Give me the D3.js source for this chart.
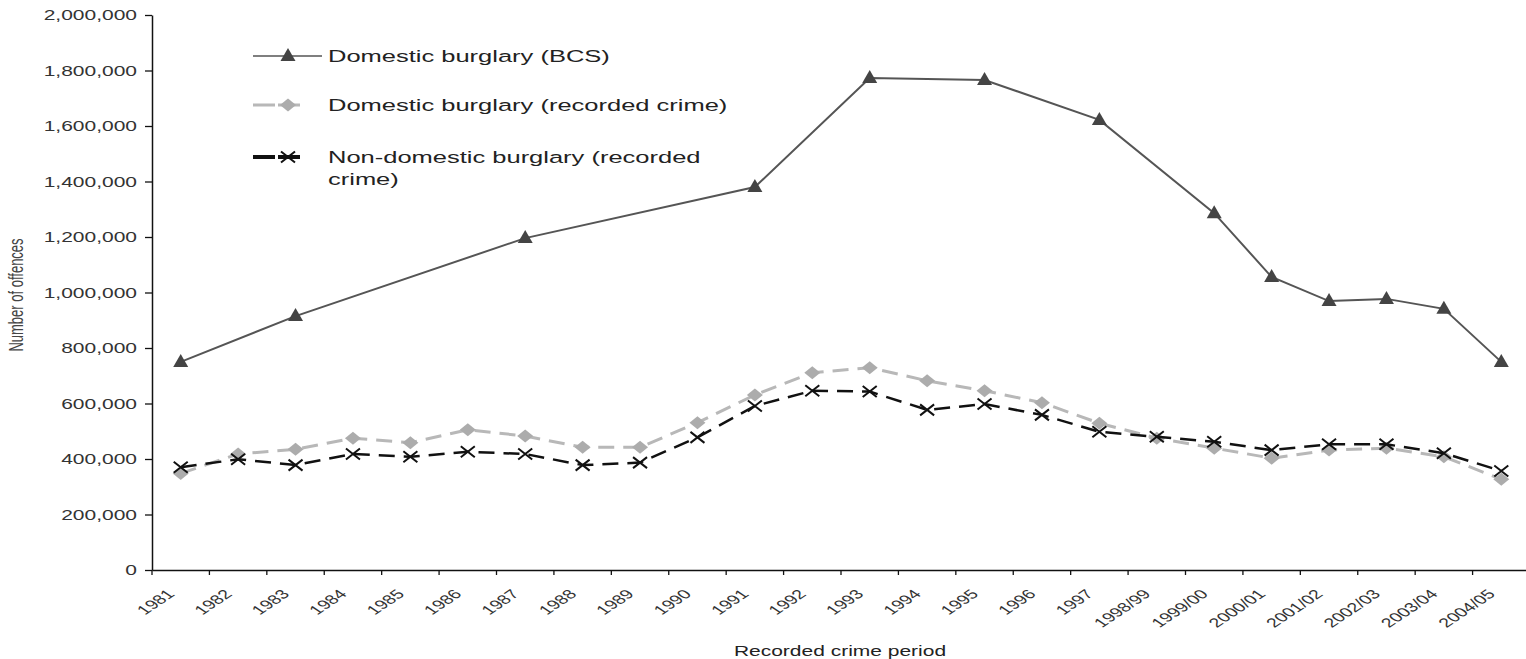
<!DOCTYPE html>
<html>
<head>
<meta charset="utf-8">
<script src="https://cdn.jsdelivr.net/npm/d3@7"></script>
<style>
  html, body { margin: 0; padding: 0; background: #fff; }
  svg { display: block; font-family: "Liberation Sans", Arial, sans-serif; }
</style>
</head>
<body>
<svg id="chart" width="1526" height="659"></svg>
<script>
const categories = ["1981","1982","1983","1984","1985","1986","1987","1988","1989","1990",
  "1991","1992","1993","1994","1995","1996","1997","1998/99","1999/00","2000/01",
  "2001/02","2002/03","2003/04","2004/05"];
const bcsValues = [750000,null,915000,null,null,null,1196000,null,null,null,
  1380000,null,1773000,null,1766000,null,1622000,null,1286000,1056000,
  969000,977000,941000,750000];
const domesticRecorded = [348000,418000,435000,475000,459000,505000,483000,442000,442000,531000,
  631000,711000,729000,682000,646000,603000,529000,475000,439000,403000,
  432000,439000,408000,327000];
const nonDomestic = [370000,399000,378000,418000,408000,426000,418000,378000,387000,478000,
  591000,646000,643000,577000,598000,559000,498000,480000,462000,432000,
  453000,453000,421000,357000];
const yTicks = [0,200000,400000,600000,800000,1000000,1200000,1400000,1600000,1800000,2000000];
const seriesNames = ["Domestic burglary (BCS)", "Domestic burglary (recorded crime)", "Non-domestic burglary (recorded", "crime)"];
const xTitle = "Recorded crime period";
const yTitle = "Number of offences";

const SX = 1.5;
const svg = d3.select("#chart");
const x = d3.scaleBand().domain(categories).range([152, 1530]).padding(0);
const y = d3.scaleLinear().domain([0, 2000000]).range([570, 15]);
const cx = c => x(c) + x.bandwidth() / 2;

// Y axis
const yAxis = svg.append("g").attr("transform", "translate(152,0)")
  .call(d3.axisLeft(y).tickValues(yTicks).tickFormat(d3.format(",")).tickSize(7).tickSizeOuter(0));
yAxis.select(".domain").attr("stroke", "#111").attr("stroke-width", 1.5);
yAxis.selectAll(".tick line").attr("stroke", "#111").attr("stroke-width", 1.3);
yAxis.selectAll(".tick text")
  .attr("x", 0).attr("dy", "0.35em")
  .attr("transform", `translate(-15,0) scale(${SX},1)`)
  .attr("font-size", 14).attr("fill", "#333").attr("font-family", null);

// X axis (labels centred in bands)
const xAxis = svg.append("g").attr("transform", "translate(0,570)")
  .call(d3.axisBottom(x).tickSize(0).tickSizeOuter(0));
xAxis.select(".domain").attr("stroke", "#111").attr("stroke-width", 1.5);
xAxis.selectAll(".tick text")
  .attr("x", 0).attr("y", 0).attr("dy", 0)
  .attr("text-anchor", "end")
  .attr("transform", `translate(-5,25) scale(${SX},1) rotate(-45)`)
  .attr("font-size", 13).attr("fill", "#333").attr("font-family", null);
// boundary ticks
const bounds = categories.map(c => x(c)).concat([x(categories[categories.length-1]) + x.bandwidth()]);
svg.append("g").selectAll("line").data(bounds).join("line")
  .attr("x1", d => d).attr("x2", d => d).attr("y1", 570).attr("y2", 575)
  .attr("stroke", "#111").attr("stroke-width", 1.3);

// Axis titles
svg.append("text").attr("transform", `translate(840,656) scale(${SX},1)`)
  .attr("text-anchor", "middle").attr("font-size", 14).attr("fill", "#222").text(xTitle);
svg.append("text").attr("transform", `translate(23,295) scale(${SX},1) rotate(-90)`)
  .attr("text-anchor", "middle").attr("font-size", 13).attr("fill", "#444").text(yTitle);

// Marker paths
const triPath = "M0,-8L7.5,5L-7.5,5Z";
const diaPath = "M0,-6.5L8,0L0,6.5L-8,0Z";
const xPath = "M-7,-5.5L7,5.5M-7,5.5L7,-5.5";

// Series 1: BCS
const bcsData = categories.map((c, i) => ({c, v: bcsValues[i]})).filter(d => d.v !== null);
const line = d3.line().x(d => cx(d.c)).y(d => y(d.v));
svg.append("path").datum(bcsData).attr("d", line)
  .attr("fill", "none").attr("stroke", "#555").attr("stroke-width", 2);
svg.append("g").selectAll("path").data(bcsData).join("path")
  .attr("transform", d => `translate(${cx(d.c)},${y(d.v)})`)
  .attr("d", triPath).attr("fill", "#444");

// Series 2: domestic recorded
const domData = categories.map((c, i) => ({c, v: domesticRecorded[i]}));
svg.append("path").datum(domData).attr("d", line)
  .attr("fill", "none").attr("stroke", "#b8b8b8").attr("stroke-width", 3)
  .attr("stroke-dasharray", "16,9");
svg.append("g").selectAll("path").data(domData).join("path")
  .attr("transform", d => `translate(${cx(d.c)},${y(d.v)})`)
  .attr("d", diaPath).attr("fill", "#acacac");

// Series 3: non-domestic
const ndData = categories.map((c, i) => ({c, v: nonDomestic[i]}));
svg.append("path").datum(ndData).attr("d", line)
  .attr("fill", "none").attr("stroke", "#111").attr("stroke-width", 2.5)
  .attr("stroke-dasharray", "16,9");
svg.append("g").selectAll("path").data(ndData).join("path")
  .attr("transform", d => `translate(${cx(d.c)},${y(d.v)})`)
  .attr("d", xPath).attr("fill", "none").attr("stroke", "#111").attr("stroke-width", 2);

// Legend
const lg = svg.append("g");
// row 1
lg.append("line").attr("x1", 253).attr("x2", 322).attr("y1", 56).attr("y2", 56)
  .attr("stroke", "#555").attr("stroke-width", 1.5);
lg.append("path").attr("transform", "translate(288,56)").attr("d", triPath).attr("fill", "#444");
// row 2
lg.append("line").attr("x1", 253).attr("x2", 322).attr("y1", 105).attr("y2", 105)
  .attr("stroke", "#b8b8b8").attr("stroke-width", 3).attr("stroke-dasharray", "22,3,22");
lg.append("path").attr("transform", "translate(288,105)").attr("d", diaPath).attr("fill", "#acacac");
// row 3
lg.append("line").attr("x1", 253).attr("x2", 322).attr("y1", 157).attr("y2", 157)
  .attr("stroke", "#111").attr("stroke-width", 4).attr("stroke-dasharray", "22,3,22");
lg.append("path").attr("transform", "translate(288,157)").attr("d", xPath)
  .attr("fill", "none").attr("stroke", "#111").attr("stroke-width", 2);
const legendText = [[seriesNames[0], 62], [seriesNames[1], 111], [seriesNames[2], 163], [seriesNames[3], 185]];
lg.selectAll("text").data(legendText).join("text")
  .attr("transform", d => `translate(328,${d[1]}) scale(${SX},1)`)
  .attr("font-size", 17).attr("fill", "#222").text(d => d[0]);
</script>
</body>
</html>
